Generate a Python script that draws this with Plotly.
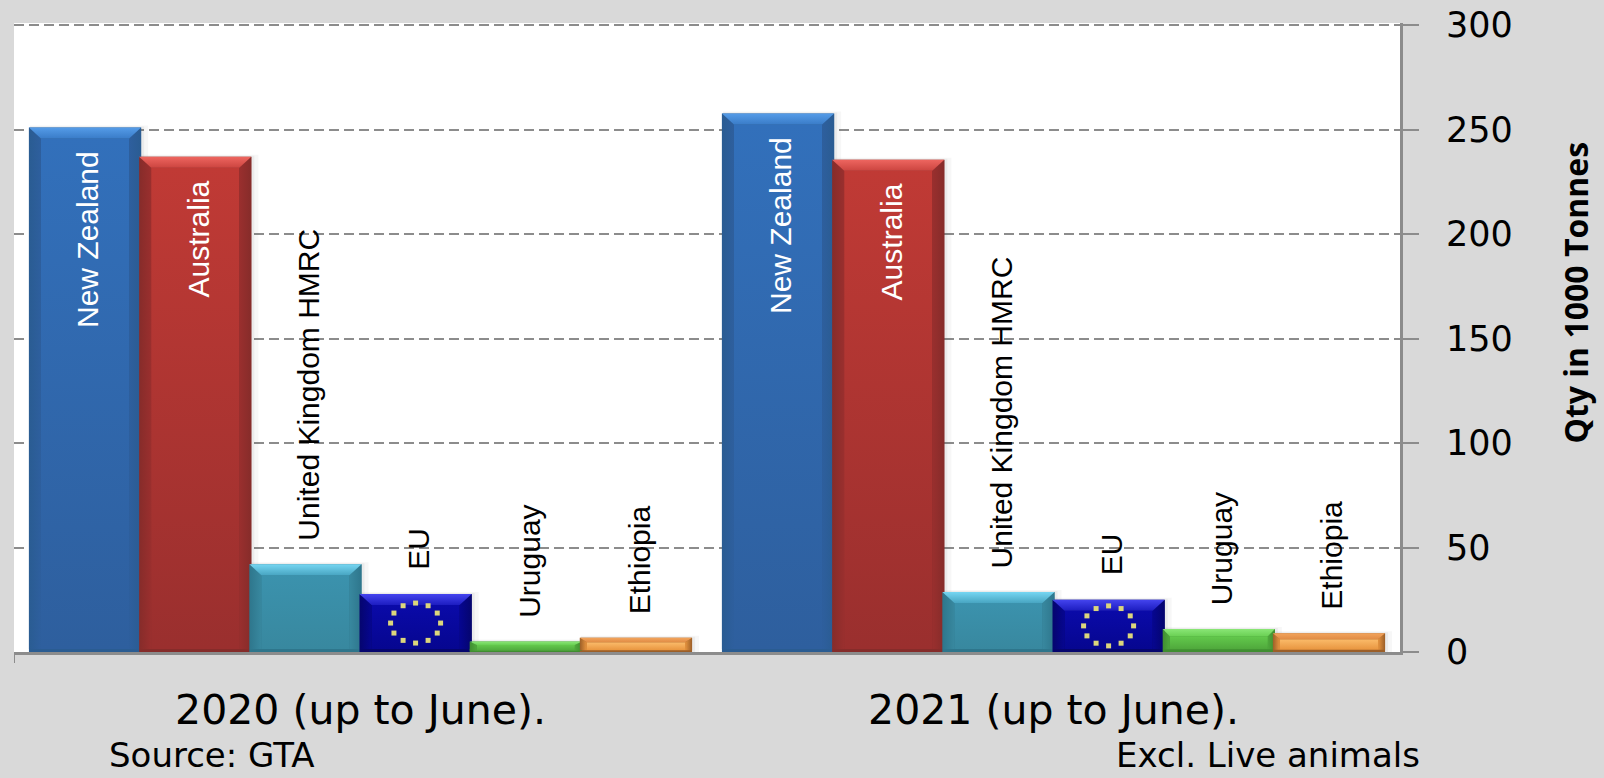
import math
import plotly.graph_objects as go

years = ["2020 (up to June).", "2021 (up to June)."]
countries = ["New Zealand", "Australia", "United Kingdom HMRC", "EU", "Uruguay", "Ethiopia"]
values_2020 = [251, 237, 42, 27.7, 5, 6.8]
values_2021 = [257.7, 235.6, 28.7, 25, 11, 9]
y_ticks = [0, 50, 100, 150, 200, 250, 300]

face_top = ["#3270bb", "#c03a35", "#3b92ad", "#0a0aa8", "#63c94c", "#fbbb6a"]
face_bot = ["#2e5f9e", "#9a2f2e", "#38889f", "#060690", "#4fa83c", "#e8953f"]
edge = ["#2a5c92", "#862c2a", "#2e768c", "#05056e", "#3f8e30", "#9c5f28"]
bevel_hi = ["#559ce8", "#ee6660", "#76d6f2", "#4444ee", "#8ae676", "#f3a45c"]
bevel_lo = ["#3a7cc8", "#cc4540", "#48a5c2", "#1c1cc0", "#6ad054", "#e08c45"]
star = "#dcd67c"
grey = "#8c8c8c"

GROUP = 0.954
BW = GROUP / 6
PX_X = 1 / 693      # x units per pixel
PX_Y = 300 / 627    # y units per pixel


def poly(fig, xs, ys, kind, c0, c1):
    fig.add_trace(go.Scatter(x=xs + xs[:1], y=ys + ys[:1], mode="lines", fill="toself",
                             fillgradient=dict(type=kind, colorscale=[[0, c0], [1, c1]]),
                             line=dict(width=0), hoverinfo="skip", showlegend=False))


fig = go.Figure()
series = [values_2020, values_2021]

for i, name in enumerate(countries):
    vals = [s[i] for s in series]
    cx = [k - GROUP / 2 + BW * (i + 0.5) for k in range(2)]
    hw = BW / 2 + PX_X
    # soft shadow built from two faint layers, then the bar itself
    for grow, alpha in ((8, 0.05), (4, 0.07)):
        fig.add_trace(go.Bar(x=[c + grow / 2 * PX_X for c in cx], y=[v + grow / 4 * PX_Y for v in vals],
                             width=BW + grow * PX_X, marker=dict(color=f"rgba(90,90,90,{alpha})", line_width=0),
                             hoverinfo="skip", showlegend=False))
    fig.add_trace(go.Bar(x=cx, y=vals, width=2 * hw, marker=dict(color=edge[i], line_width=0),
                         hoverinfo="skip", showlegend=False, name=name))
    for c, v in zip(cx, vals):
        big = v > 15
        ins = (12 if big else 7) * PX_X
        b = min(11 * PX_Y, v * 0.32)
        foot = min(3 * PX_Y, v * 0.12)
        L, R = c - hw, c + hw
        # front face
        poly(fig, [L + ins, R - ins, R - ins, L + ins], [foot, foot, v - b, v - b], "vertical", face_bot[i], face_top[i])
        # side bevels
        poly(fig, [L, L + ins, L + ins, L], [foot, foot, v - b, v], "horizontal", edge[i], face_bot[i])
        poly(fig, [R - ins, R, R, R - ins], [foot, foot, v, v - b], "horizontal", face_bot[i], edge[i])
        # top bevel
        poly(fig, [L, R, R - ins, L + ins], [v, v, v - b, v - b], "vertical", bevel_lo[i], bevel_hi[i])

# EU stars, ringed around the middle of each EU bar
eu = countries.index("EU")
sx, sy = [], []
for k, s in enumerate(series):
    c = k - GROUP / 2 + BW * (eu + 0.5)
    for n in range(12):
        a = math.radians(30 * n)
        sx.append(c + 25 * PX_X * math.sin(a))
        sy.append(s[eu] / 2 + 20 * PX_Y * math.cos(a))
fig.add_trace(go.Scatter(x=sx, y=sy, mode="markers", marker=dict(symbol="square", size=5, color=star),
                         hoverinfo="skip", showlegend=False))

LABEL_FONT = "Liberation Sans"
for k, s in enumerate(series):
    for i, name in enumerate(countries):
        inside = s[i] > 100
        fig.add_annotation(x=k - GROUP / 2 + BW * (i + 0.5), y=s[i], xref="x", yref="y", text=name,
                           textangle=-90, showarrow=False, xanchor="center", xshift=3,
                           yanchor="top" if inside else "bottom",
                           yshift=-22 if inside else 22,
                           font=dict(family=LABEL_FONT, size=30, color="white" if inside else "black"))

fig.add_annotation(x=(107 - 14) / 1386, y=0.0, xref="paper", yref="paper", yanchor="bottom", xanchor="left", yshift=-125,
                   text="Source: GTA", showarrow=False, font=dict(family="DejaVu Sans", size=34, color="black"))
fig.add_annotation(x=(1422 - 14) / 1386, y=0.0, xref="paper", yref="paper", yanchor="bottom", xanchor="right", yshift=-125,
                   text="Excl. Live animals", showarrow=False, font=dict(family="DejaVu Sans", size=34, color="black"))
fig.add_annotation(x=(1576 - 14) / 1386, y=172, xref="paper", yref="y", text="<b>Qty in 1000 Tonnes</b>", textangle=-90,
                   showarrow=False, xanchor="center", yanchor="middle",
                   font=dict(family="Open Sans", size=32, color="black"))

fig.update_layout(
    width=1604, height=778, autosize=False, barmode="overlay",
    margin=dict(l=14, r=204, t=23, b=126),
    paper_bgcolor="#d9d9d9", plot_bgcolor="white",
    xaxis=dict(range=[-0.5, 1.5], tickvals=[0, 1], ticktext=years, showgrid=False, zeroline=False,
               showline=True, linecolor=grey, linewidth=3, ticks="", ticklen=0,
               tickfont=dict(family="DejaVu Sans", size=41, color="black"), ticklabelstandoff=20, automargin=False),
    yaxis=dict(range=[0, 301], side="right", tickvals=y_ticks, showgrid=True, gridcolor=grey, gridwidth=2,
               griddash="10px,5px", zeroline=False, showline=True, linecolor=grey, linewidth=3,
               ticks="outside", ticklen=16, tickwidth=2, tickcolor=grey, ticklabelstandoff=20,
               tickfont=dict(family="DejaVu Sans", size=35, color="black"), automargin=False),
    shapes=[dict(type="line", xref="x", yref="paper", x0=-0.5, x1=-0.5, y0=0, y1=-11 / 627,
                 line=dict(color=grey, width=2))],
)

fig.write_html("out.html", config={"displayModeBar": False},
               post_script="document.body.style.margin='0';document.body.style.background='#d9d9d9';")
